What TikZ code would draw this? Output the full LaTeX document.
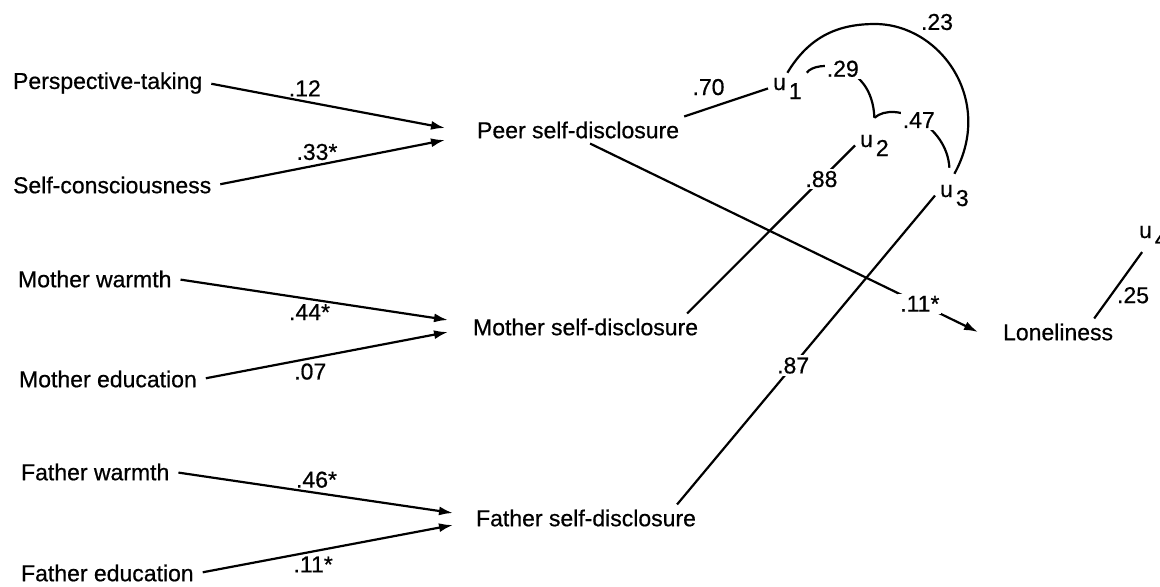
\documentclass[tikz,border=0pt]{standalone}
\usepackage{fontspec}
\setmainfont{Liberation Sans}[UprightFeatures={FakeBold=0.6}]
\usetikzlibrary{arrows.meta}
\tikzset{>={Latex[length=7pt,width=4.5pt]}}

\newcommand{\uvar}[1]{u\hspace{1.5pt}\raisebox{-4.5pt}{#1}}

\begin{document}
\begin{tikzpicture}[x=0.5pt,y=-0.5pt,line width=1.1pt,
	var/.style={anchor=west,inner sep=2pt,font=\fontsize{11.5}{13}\selectfont},
	coef/.style={inner sep=2pt,font=\fontsize{11.5}{13}\selectfont},
	brk/.style={coef,fill=white,inner sep=1pt},
	resid/.style={anchor=base west,inner sep=2pt,font=\fontsize{11.5}{13}\selectfont}]
	\useasboundingbox (0,0) rectangle (1160,586);

	% predictors
	\node[var] (pt) at (8,83) {Perspective-taking};
	\node[var] (sc) at (8,185) {Self-consciousness};
	\node[var] (mw) at (13,279) {Mother warmth};
	\node[var] (me) at (14,379) {Mother education};
	\node[var] (fw) at (16,472) {Father warmth};
	\node[var] (fe) at (16,573) {Father education};

	% disclosure
	\node[var] (pd) at (472,130) {Peer self-disclosure};
	\node[var] (md) at (468,327) {Mother self-disclosure};
	\node[var] (fd) at (471,518) {Father self-disclosure};
	\node[var] (lon) at (998,332) {Loneliness};

	% residuals
	\node[resid] (u1) at (768,90) {\uvar{1}};
	\node[resid] (u2) at (855,147) {\uvar{2}};
	\node[resid] (u3) at (935,197) {\uvar{3}};
	\node[resid] (u4) at (1134,238) {\uvar{4}};

	\coordinate (pdin1) at (445,128);
	\coordinate (pdin2) at (445,140);
	\coordinate (mdin1) at (448,320);
	\coordinate (mdin2) at (448,332);
	\coordinate (fdin1) at (453,513);
	\coordinate (fdin2) at (453,525);
	\coordinate (cusp) at ([yshift=6pt]u2.north);

	\draw[->,shorten <=2pt] (pt.east) -- node[coef,pos=0.41,above]{.12} (pdin1);
	\draw[->,shorten <=2pt] (sc.east) -- node[coef,pos=0.44,above]{.33*} (pdin2);
	\draw[->,shorten <=2pt] (mw.east) -- node[coef,pos=0.49,below]{.44*} (mdin1);
	\draw[->,shorten <=2pt] (me.east) -- node[coef,pos=0.44,below]{.07} (mdin2);
	\draw[->,shorten <=2pt] (fw.east) -- node[coef,pos=0.51,above]{.46*} (fdin1);
	\draw[->,shorten <=2pt] (fe.east) -- node[coef,pos=0.45,below]{.11*} (fdin2);

	\draw[->] ([xshift=6pt]pd.south) -- node[brk,pos=0.85]{.11*} ([xshift=-10pt]lon.west);

	\draw (pd.north east) -- node[coef,pos=0.29,above=4pt]{.70} (u1.west);
	\draw ([xshift=-8pt]md.north east) -- node[brk,pos=0.8]{.88} (u2.west);
	\draw ([xshift=-12pt]fd.north east) -- node[brk,pos=0.45]{.87} (u3.west);
	\draw ([xshift=-12pt]lon.north east) -- node[coef,pos=0.35,right=0.5pt]{.25} (u4);

	% correlated residuals
	\draw (u1.north east) .. controls (815,60) and (872,60) .. (cusp) node[brk,pos=0.5]{.29};
	\draw (cusp) .. controls (895,100) and (947,125) .. ([yshift=6pt,xshift=-2.5pt]u3.north) node[brk,pos=0.5]{.47};
	\draw (u1.north) .. controls (810,35) and (840,24) .. (875,24)
		.. controls (940,24) and (995,100) .. ([yshift=3pt]u3.north);
	\node[coef] (r13) at (937,22) {.23};
\end{tikzpicture}
\end{document}
